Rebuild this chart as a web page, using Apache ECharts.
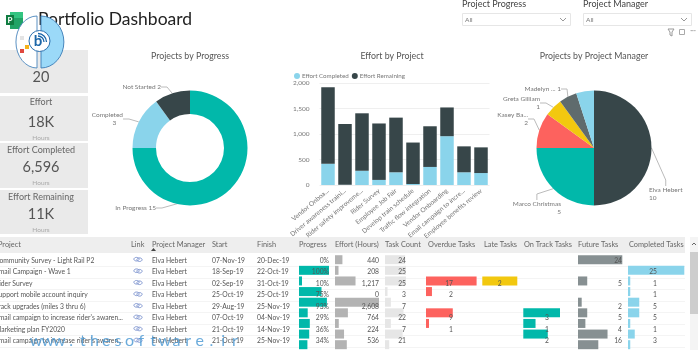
<!DOCTYPE html>
<html>
<head>
<meta charset="utf-8">
<style>html,body{margin:0;padding:0;background:#fff}#main{width:700px;height:350px}</style>
<script src="https://cdn.jsdelivr.net/npm/echarts@6/dist/echarts.min.js"></script>
</head>
<body>
<div id="main"></div>
<script>
let progressNames = ['In Progress', 'Completed', 'Not Started'];
let progressValues = [15, 3, 2];

let effortProjects = ['Vendor Onboa...', 'Driver awareness traini...', 'Rider safety improveme...', 'Rider Survey', 'Employee Job Fair', 'Develop train schedule', 'Traffic flow integration', 'Vendor Onboarding', 'Email campaign to incre...', 'Employee benefits review'];
let effortCompleted = [420, 5, 280, 100, 250, 20, 355, 960, 250, 235];
let effortRemaining = [1500, 1195, 1130, 1110, 1075, 815, 800, 565, 510, 505];

let managerNames = ['Elva Hebert', 'Marco Christmas', 'Kasey Ba...', 'Greta Gilliam', 'Madelyn ...', ''];
let managerValues = [10, 5, 2, 1, 1, 1];

let rowProjects = ['Community Survey - Light Rail P2', 'Email Campaign - Wave 1', 'Rider Survey', 'Support mobile account inquiry', 'Track upgrades (miles 3 thru 6)', "Email campaign to increase rider's awaren...", 'Marketing plan FY2020', "Email campaign to increase rider's awaren..."];
let rowStart = ['07-Nov-19', '18-Sep-19', '02-Sep-19', '25-Oct-19', '29-Aug-19', '07-Oct-19', '21-Oct-19', '21-Oct-19'];
let rowFinish = ['20-Dec-19', '22-Oct-19', '31-Oct-19', '25-Oct-19', '25-Nov-19', '04-Nov-19', '14-Nov-19', '25-Nov-19'];
let rowProgress = [0, 100, 10, 75, 93, 29, 36, 34, 28];
let rowEffort = [440, 208, 1217, 0, 2608, 764, 224, 536, 700];
let rowTasks = [24, 25, 25, 3, 7, 22, 7, 21, 5];
let rowOverdue = [null, null, 17, 2, null, 9, 1, null, null];
let rowLate = [null, null, 2, null, null, null, null, null, null];
let rowOnTrack = [null, null, null, null, null, 3, 1, 2, null];
let rowFuture = [24, null, 5, null, 2, 5, 4, 16, 11];
let rowCompleted = [null, 25, 1, 1, 5, 5, 1, 3, 1];
let rowIds = ['r1', 'r2', 'r3', 'r4', 'r5', 'r6', 'r7', 'r8', 'r9'];

let FONT = 'Lato, "Noto Sans", sans-serif';
let TEAL = '#01B8AA', SKY = '#8AD4EB', DARK = '#374649', RED = '#FD625E', YELLOW = '#F2C80F', SLATE = '#5F6B6D';
let ROW0 = 254.4, ROWH = 11.55;

// one hidden grid per data bar column in the table
let barCols = [
	{data: rowProgress, left: 299, width: 30, max: 100, color: TEAL, textX: 329, fmt: v => v + '%'},
	{data: rowEffort, left: 335, width: 44, max: 2608, color: '#B3B3B3', textX: 379, fmt: v => v.toLocaleString('en-US')},
	{data: rowTasks, left: 385, width: 21, max: 25, color: '#E6E6E6', textX: 406, fmt: v => v},
	{data: rowOverdue, left: 426, width: 50.6, max: 17, color: RED, textX: 453, fmt: v => v},
	{data: rowLate, left: 482.3, width: 35, max: 2, color: YELLOW, textX: 501.7, fmt: v => v},
	{data: rowOnTrack, left: 523.3, width: 36.7, max: 3, color: TEAL, textX: 549, fmt: v => v},
	{data: rowFuture, left: 578, width: 44.3, max: 24, color: '#879092', textX: 622, fmt: v => v},
	{data: rowCompleted, left: 628, width: 56.3, max: 25, color: SKY, textX: 657, fmt: v => v}
];

let g = [];
function txt(text, x, y, size, color, align, z, weight, sx) {
	g.push({type: 'text', x: x, y: y, scaleX: sx || 1, z: z || 10, silent: true, style: {
		text: String(text), fontFamily: FONT, fontSize: size, fill: color,
		align: align || 'left', verticalAlign: 'middle', fontWeight: weight || 'normal'
	}});
}
function box(x, y, w, h, fill, z, stroke) {
	g.push({type: 'rect', z: z || 0, silent: true, shape: {x: x, y: y, width: w, height: h},
		style: {fill: fill, stroke: stroke || null, lineWidth: stroke ? 1 : 0}});
}
function poly(points, color, z, w) {
	g.push({type: 'polyline', z: z || 10, silent: true, shape: {points: points},
		style: {fill: null, stroke: color, lineWidth: w || 1}});
}

// header
txt('Portfolio Dashboard', 38, 19, 17.5, '#222');

// KPI cards
let cards = [
	[50, 43, '', '20', 77, '', 0],
	[96, 45, 'Effort', '18K', 122, 'Hours', 102],
	[143, 45, 'Effort Completed', '6,596', 167, 'Hours', 150],
	[190, 44, 'Effort Remaining', '11K', 214, 'Hours', 197]
];
cards.forEach(c => {
	box(0, c[0], 88, c[1], '#EAEAEA');
	if (c[2]) txt(c[2], 41, c[6], 9, '#666', 'center');
	txt(c[3], 41, c[4], 14.5, '#555', 'center');
	if (c[5]) txt(c[5], 41, c[4] + 15.5, 6.5, '#AAA', 'center');
});

// slicers
[[462, 'Project Progress'], [583, 'Project Manager']].forEach(s => {
	txt(s[1], s[0], 4, 9, '#444');
	box(s[0] + 0.5, 13.5, 108, 12, '#fff', 0, '#E6E6E6');
	txt('All', s[0] + 3, 20, 6.5, '#777');
	poly([[s[0] + 98, 18], [s[0] + 101, 21], [s[0] + 104, 18]], '#999');
});
poly([[668, 29], [674, 29], [672, 32], [672, 36], [670, 35], [670, 32], [668, 29]], '#999');
box(679.5, 29.5, 5, 5, '#fff', 10, '#aaa');
txt('···', 693, 31, 7, '#888', 'center');

// table chrome
box(0, 237, 685, 16, '#EEEEEE');
for (let i = 1; i < 9; i++) {
	box(0, Math.round(ROW0 + ROWH * i), 685, 1, '#F4F4F4');
}
box(690, 237, 8, 113, '#F4F4F4');
box(690, 252, 8, 62, '#CDCDCD');
poly([[692, 245], [694, 243], [696, 245]], '#666');

[['Project', -2], ['Link', 131], ['Project Manager', 152], ['Start', 212], ['Finish', 257],
 ['Progress', 299], ['Effort (Hours)', 335], ['Task Count', 385], ['Overdue Tasks', 428],
 ['Late Tasks', 484], ['On Track Tasks', 524], ['Future Tasks', 578], ['Completed Tasks', 629]
].forEach(h => txt(h[0], h[1], 244, 8, '#666', 'left', 10, 'normal', 0.92));
g.push({type: 'polygon', z: 10, silent: true, shape: {points: [[151, 251], [156, 251], [153.5, 248]]}, style: {fill: '#444'}});

rowProjects.forEach((p, i) => {
	let y = ROW0 + ROWH * (i + 0.5);
	txt(p, -5, y, 7.6, '#555', 'left', 10, 'normal', 0.89);
	txt('Elva Hebert', 152, y, 7.6, '#555', 'left', 10, 'normal', 0.89);
	txt(rowStart[i], 212, y, 7.6, '#555', 'left', 10, 'normal', 0.89);
	txt(rowFinish[i], 257, y, 7.6, '#555', 'left', 10, 'normal', 0.89);
	g.push({type: 'ellipse', z: 10, silent: true, shape: {cx: 136.5, cy: y - 1, rx: 2.6, ry: 1.8}, style: {fill: null, stroke: '#7F95CF', lineWidth: 1}});
	g.push({type: 'ellipse', z: 10, silent: true, shape: {cx: 139.5, cy: y - 0.5, rx: 2.6, ry: 1.8}, style: {fill: null, stroke: '#7F95CF', lineWidth: 1}});
	barCols.forEach(c => {
		if (c.data[i] != null) txt(c.fmt(c.data[i]), c.textX, y, 7.6, '#555', 'right', 10, 'normal', 0.89);
	});
});

// watermark
'www.thesoftware.ir'.split('').forEach((ch, i) => {
	txt(ch, 36 + i * 11.7, 341, 16, 'rgba(70,150,210,0.8)', 'center', 15);
});

// project icon and logo on top of the title
box(10, 12, 13, 17, '#21A366', 16);
box(10, 12, 13, 6, '#33C481', 16);
box(6, 15, 8, 10, '#107C41', 17);
txt('P', 10, 20.5, 8, '#fff', 'center', 18, 'bold');
g.push({type: 'sector', x: 37, y: 42, scaleX: 0.81, z: 20, silent: true, shape: {cx: 0, cy: 0, r: 26, r0: 0, startAngle: Math.PI / 2, endAngle: Math.PI * 1.5},
	style: {fill: '#fff', stroke: '#4A86BD', lineWidth: 1}});
g.push({type: 'sector', x: 41, y: 42, scaleX: 0.88, z: 20, silent: true, shape: {cx: 0, cy: 0, r: 26, r0: 0, startAngle: -Math.PI / 2, endAngle: Math.PI / 2},
	style: {fill: '#9BD9F8', stroke: '#3F7FB8', lineWidth: 1}});
box(20, 36, 4, 4, '#E4E4E4', 21);
box(25, 45, 4, 4, '#F5B21C', 21);
box(20, 49, 4, 4, '#E0483E', 21);
g.push({type: 'circle', z: 22, silent: true, shape: {cx: 39.5, cy: 41, r: 10.5}, style: {fill: '#fff', stroke: '#2A6FAE', lineWidth: 1}});
txt('b', 38, 41, 15, '#1B66A8', 'center', 23, 'bold');
g.push({type: 'arc', z: 23, silent: true, shape: {cx: 38, cy: 42, r: 6, startAngle: -Math.PI / 2, endAngle: 0}, style: {fill: null, stroke: '#1B66A8', lineWidth: 1.3}});
g.push({type: 'arc', z: 23, silent: true, shape: {cx: 38, cy: 42, r: 8.5, startAngle: -Math.PI / 2, endAngle: 0}, style: {fill: null, stroke: '#1B66A8', lineWidth: 1.3}});

// chart titles
txt('Projects by Progress', 190, 56, 10, '#555', 'center', 10, 'normal', 0.88);
txt('Effort by Project', 392, 56, 10, '#555', 'center', 10, 'normal', 0.88);
txt('Projects by Project Manager', 594, 56, 10, '#555', 'center', 10, 'normal', 0.88);

function placed(list) {
	return function (params) {
		let p = list[params.dataIndex];
		return p ? {x: p[0], y: p[1], align: p[2], verticalAlign: 'middle'} : {};
	};
}

let grids = [{left: 319.5, top: 83.3, width: 170, height: 101.7}];
let xAxes = [{
	type: 'category', gridIndex: 0, data: effortProjects,
	axisLine: {show: false}, axisTick: {show: false},
	axisLabel: {rotate: 40, interval: 0, margin: 5, fontSize: 6.5, color: '#777', fontFamily: FONT}
}];
let yAxes = [{
	type: 'value', gridIndex: 0, min: 0, max: 2000, interval: 500,
	axisLine: {show: false}, axisTick: {show: false},
	axisLabel: {fontSize: 6.5, color: '#777', margin: 10, fontFamily: FONT, formatter: v => v.toLocaleString('en-US')},
	splitLine: {lineStyle: {color: '#EFEFEF'}}
}];
let series = [
	{name: 'Effort Completed', type: 'bar', stack: 'e', xAxisIndex: 0, yAxisIndex: 0, barWidth: 13.5, itemStyle: {color: SKY}, data: effortCompleted},
	{name: 'Effort Remaining', type: 'bar', stack: 'e', xAxisIndex: 0, yAxisIndex: 0, barWidth: 13.5, itemStyle: {color: DARK}, data: effortRemaining},
	{
		type: 'pie', center: [190, 148], radius: [34, 57.5], startAngle: 90, clockwise: true,
		color: [TEAL, SKY, DARK],
		data: progressNames.map((n, i) => ({name: n, value: progressValues[i]})),
		label: {
			fontSize: 6.5, color: '#777', fontFamily: FONT, lineHeight: 8, overflow: 'none',
			formatter: p => p.name === 'Completed' ? 'Completed\n' + p.value + '    ' : p.name + ' ' + p.value
		},
		labelLine: {length: 5, length2: 6, lineStyle: {color: '#BBB', width: 1}},
		labelLayout: placed([[156, 208, 'right'], [123, 119, 'right'], [161, 87, 'right']]),
		emphasis: {disabled: true}
	},
	{
		type: 'pie', center: [594, 148], radius: [0, 57.5], startAngle: 90, clockwise: true,
		color: [DARK, TEAL, RED, YELLOW, SLATE, SKY],
		data: managerNames.map((n, i) => ({
			name: n, value: managerValues[i],
			label: {show: n !== ''}, labelLine: {show: n !== ''}
		})),
		label: {
			fontSize: 6.5, color: '#777', fontFamily: FONT, lineHeight: 8, overflow: 'none',
			formatter: p => p.name === 'Madelyn ...' ? p.name + ' ' + p.value : p.name + '\n' + p.value
		},
		labelLine: {length: 5, length2: 6, lineStyle: {color: '#BBB', width: 1}},
		labelLayout: placed([[649, 194, 'left'], [561, 208, 'right'], [528, 119, 'right'], [540, 103, 'right'], [561, 89, 'right']]),
		emphasis: {disabled: true}
	}
];

barCols.forEach((c, i) => {
	let idx = i + 1;
	grids.push({left: c.left, width: c.width, top: ROW0, height: ROWH * rowIds.length});
	xAxes.push({type: 'value', gridIndex: idx, min: 0, max: c.max, show: false});
	yAxes.push({type: 'category', gridIndex: idx, inverse: true, data: rowIds, show: false});
	series.push({type: 'bar', xAxisIndex: idx, yAxisIndex: idx, barWidth: 9, itemStyle: {color: c.color}, data: c.data, silent: true});
});

let chart = echarts.init(document.getElementById('main'));
chart.setOption({
	animation: false,
	textStyle: {fontFamily: FONT},
	graphic: {elements: g},
	legend: {
		left: 289, top: 68, itemWidth: 6, itemHeight: 6, itemGap: 3, icon: 'circle',
		data: ['Effort Completed', 'Effort Remaining'],
		textStyle: {fontSize: 6.2, color: '#777', padding: [0, 0, 0, -3]}
	},
	grid: grids,
	xAxis: xAxes,
	yAxis: yAxes,
	series: series
});
</script>
</body>
</html>
